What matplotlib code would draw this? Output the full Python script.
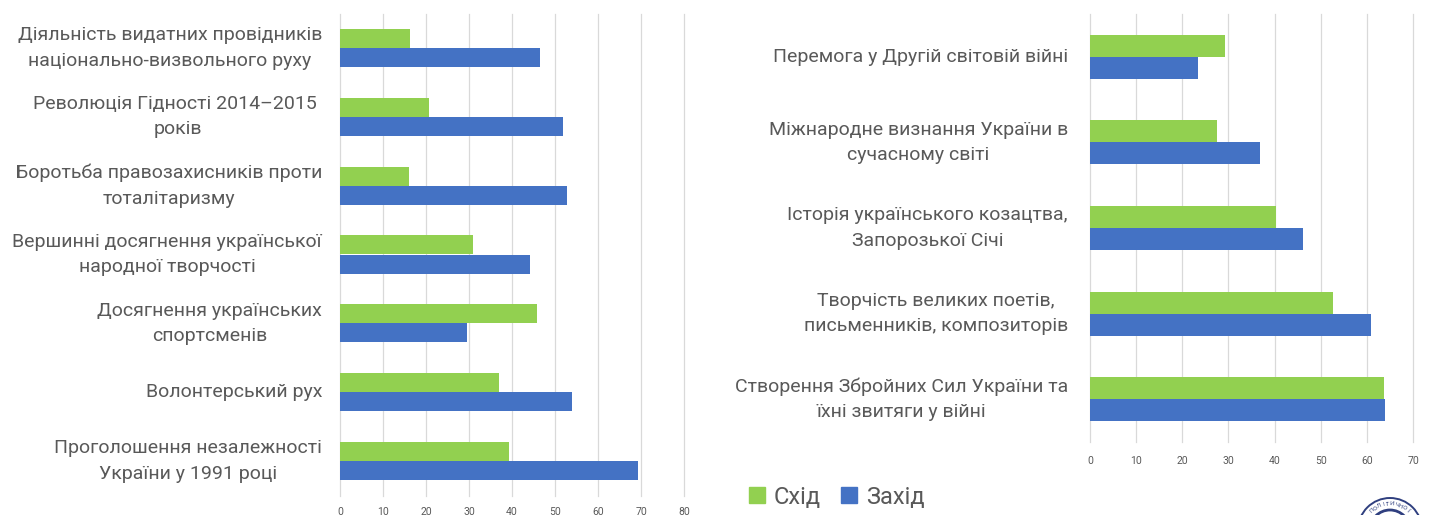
import math
import matplotlib
matplotlib.use("Agg")
import matplotlib.pyplot as plt
from matplotlib.patches import Patch, Ellipse

plt.rcParams['font.family'] = ['Roboto', 'DejaVu Sans']

W, H = 1430, 515
TEXT = '#595959'
GREEN = '#92D050'
BLUE = '#4472C4'

left_labels = ["Діяльність видатних провідників\nнаціонально-визвольного руху",
               "Революція Гідності 2014–2015 \nроків",
               "Боротьба правозахисників проти\nтоталітаризму",
               "Вершинні досягнення української\nнародної творчості",
               "Досягнення українських\nспортсменів",
               "Волонтерський рух",
               "Проголошення незалежності\nУкраїни у 1991 році"]
left_east = [16.3, 20.6, 16.0, 31.0, 45.8, 37.0, 39.3]
left_west = [46.5, 51.9, 52.8, 44.3, 29.5, 53.9, 69.3]
left_ticks = [0, 10, 20, 30, 40, 50, 60, 70, 80]

right_labels = ["Перемога у Другій світовій війні",
                "Міжнародне визнання України в\nсучасному світі",
                "Історія українського козацтва,\nЗапорозької Січі",
                "Творчість великих поетів,\nписьменників, композиторів",
                "Створення Збройних Сил України та\nїхні звитяги у війні"]
right_east = [29.3, 27.5, 40.3, 52.7, 63.8]
right_west = [23.4, 36.9, 46.2, 60.8, 64.0]
right_ticks = [0, 10, 20, 30, 40, 50, 60, 70]

series_names = ["Схід", "Захід"]
seal_text = "ПОЛІТИЧНОЇ"

fig = plt.figure(figsize=(W / 100, H / 100), dpi=100, facecolor='white')


def panel(x0, x1, top, bottom, labels, east, west, ticks, xmax, bar_h, fs, pad, tick_pad):
    ax = fig.add_axes([x0 / W, 1 - bottom / H, (x1 - x0) / W, (bottom - top) / H])
    ys = list(range(len(labels)))
    ax.barh([y - bar_h / 2 for y in ys], east, height=bar_h, color=GREEN, zorder=3)
    ax.barh([y + bar_h / 2 for y in ys], west, height=bar_h, color=BLUE, zorder=3)
    ax.set_xlim(0, xmax)
    ax.set_ylim(len(labels) - 0.5, -0.5)
    ax.set_yticks(ys)
    ax.set_yticklabels(labels, fontsize=fs, color=TEXT, ha='right', va='center', ma='center',
                       linespacing=1.52)
    ax.set_xticks(ticks)
    ax.set_xticklabels([str(t) for t in ticks], fontsize=7.5, color=TEXT)
    ax.tick_params(axis='y', length=0, pad=pad)
    ax.tick_params(axis='x', length=0, pad=tick_pad)
    ax.grid(axis='x', color='#D9D9D9', linewidth=0.9, zorder=0)
    for g in ax.get_xgridlines():
        g.set_clip_on(False)
    ax.set_axisbelow(True)
    for s in ax.spines.values():
        s.set_visible(False)
    return ax


panel(340, 684, 13.5, 495.5, left_labels, left_east, left_west, left_ticks, 80, 0.277, 14, 13, 8)
panel(1090, 1413, 14, 442, right_labels, right_east, right_west, right_ticks, 70, 0.257, 14, 16, 10)

handles = [Patch(color=GREEN, label=series_names[0]), Patch(color=BLUE, label=series_names[1])]
fig.legend(handles=handles, loc='center left', bbox_to_anchor=(749 / W, 1 - 497 / H), ncol=2,
           frameon=False, fontsize=17, labelcolor=TEXT, handlelength=0.66, handleheight=0.66,
           handletextpad=0.4, columnspacing=0.85, borderpad=0, borderaxespad=0)

# Round seal, cut off by the bottom edge
cx, cy = 1390, 530
for r, ec, lw in [(32, '#2F3F7F', 1.4), (20, '#2F3F7F', 2.0)]:
    fig.add_artist(Ellipse((cx / W, 1 - cy / H), 2 * r / W, 2 * r / H, transform=fig.transFigure,
                           facecolor='white', edgecolor=ec, linewidth=lw))
n = len(seal_text)
for i, ch in enumerate(seal_text):
    a = (i - (n - 1) / 2) * 9.5
    x = cx + 26 * math.sin(math.radians(a))
    y = cy - 26 * math.cos(math.radians(a))
    fig.text(x / W, 1 - y / H, ch, fontsize=4.2, color='#2F3F7F', rotation=-a,
             ha='center', va='center', rotation_mode='anchor')

fig.savefig('out.png', dpi=100, facecolor='white')
